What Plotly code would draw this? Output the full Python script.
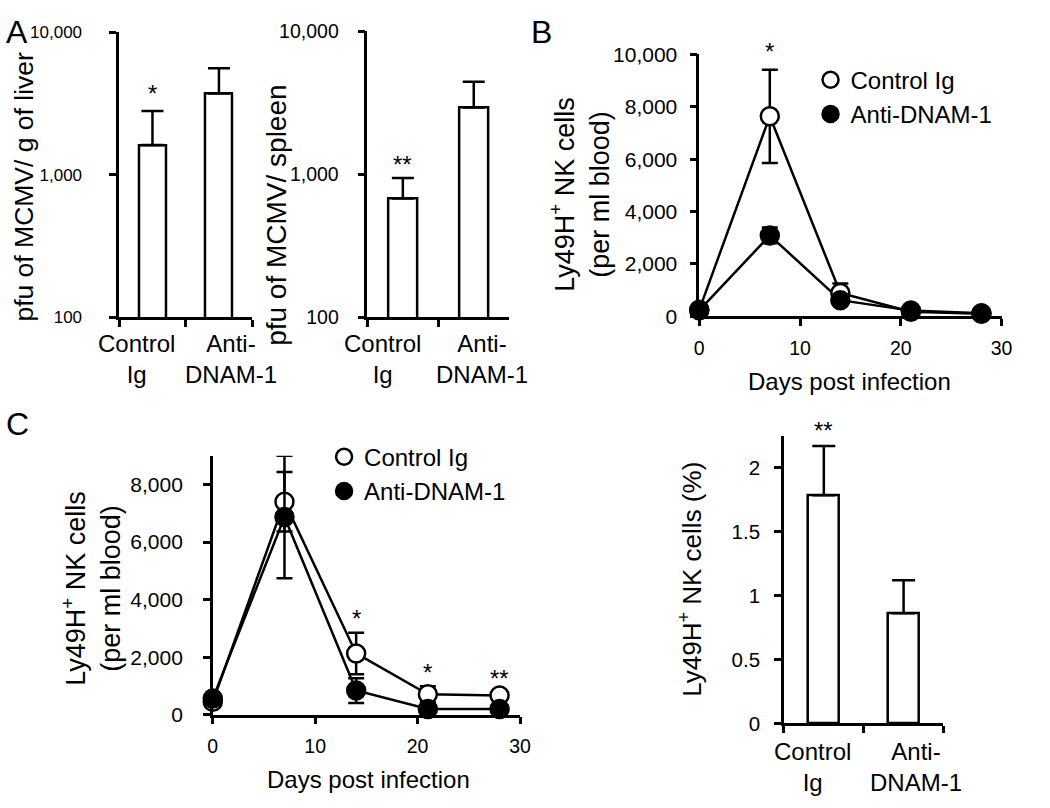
import plotly.graph_objects as go
import numpy as np

W, H = 1050, 808
FONT = "Liberation Sans, Arial, sans-serif"

# ---------------- data ----------------
groups = ["Control Ig", "Anti-DNAM-1"]
group_labels = ["Control<br>Ig", "Anti-<br>DNAM-1"]

liver_pfu = [1615, 3715]
liver_err = [1185, 1875]
liver_sig = ["*", ""]

spleen_pfu = [676, 2933]
spleen_err = [264, 1517]
spleen_sig = ["**", ""]

days = [0, 7, 14, 21, 28]
b_control = [250, 7640, 890, 180, 100]
b_control_err = [80, 1780, 370, 50, 30]
b_anti = [230, 3090, 620, 220, 120]
b_anti_err = [60, 300, 150, 60, 30]
b_sig = ["", "*", "", "", ""]

c_control = [450, 7400, 2130, 710, 670]
c_control_err = [80, 1030, 720, 280, 100]
c_anti = [560, 6870, 840, 200, 200]
c_anti_err = [80, 2130, 430, 60, 50]
c_sig = ["", "", "*", "*", "**"]

pct_ly49h = [1.783, 0.86]
pct_err = [0.384, 0.258]
pct_sig = ["**", ""]

# ---------------- helpers (pixel -> paper) ----------------
def px(a):
    return a / W

def py(p):
    return 1 - p / H

def xd(a, b):
    return [px(a), px(b)]

def yd(top, bottom):
    return [py(bottom), py(top)]

LW = 2.5
fig = go.Figure()

def bar_trace(vals, errs, xa, ya, width, capw):
    return go.Bar(
        x=groups, y=vals, width=width,
        marker=dict(color="white", line=dict(color="black", width=LW)),
        error_y=dict(type="data", symmetric=False, array=errs, arrayminus=[0] * len(errs),
                     color="black", thickness=LW, width=capw),
        xaxis=xa, yaxis=ya, showlegend=False, cliponaxis=False,
    )

fig.add_trace(bar_trace(liver_pfu, liver_err, "x", "y", 0.4, 11))
fig.add_trace(bar_trace(spleen_pfu, spleen_err, "x2", "y2", 0.4, 11))
fig.add_trace(bar_trace(pct_ly49h, pct_err, "x5", "y5", 0.39, 11.5))

def line_panel(ctrl, ctrl_err, anti, anti_err, xa, ya, leg):
    for vals in (ctrl, anti):
        fig.add_trace(go.Scatter(x=days, y=vals, mode="lines", line=dict(color="black", width=LW),
                                 xaxis=xa, yaxis=ya, showlegend=False, cliponaxis=False,
                                 hoverinfo="skip"))
    for name, vals, errs, fill in (("Control Ig", ctrl, ctrl_err, "white"),
                                   ("Anti-DNAM-1", anti, anti_err, "black")):
        fig.add_trace(go.Scatter(
            x=days, y=vals, mode="markers", name=name,
            marker=dict(size=18, color=fill, line=dict(color="black", width=LW)),
            error_y=dict(type="data", array=errs, color="black", thickness=LW, width=8),
            xaxis=xa, yaxis=ya, legend=leg, cliponaxis=False,
        ))

line_panel(b_control, b_control_err, b_anti, b_anti_err, "x3", "y3", "legend")
line_panel(c_control, c_control_err, c_anti, c_anti_err, "x4", "y4", "legend2")

# ---------------- axes ----------------
def tf(size):
    return dict(family=FONT, size=size, color="black")

common = dict(showline=True, linecolor="black", linewidth=LW, ticks="outside",
              ticklen=7, tickwidth=LW, tickcolor="black", showgrid=False,
              zeroline=False)

def cat_x(dom, anchor):
    return dict(common, domain=dom, anchor=anchor, type="category",
                categoryorder="array", categoryarray=groups,
                range=[-0.5, 1.5], tickson="boundaries", showticklabels=False)

fig.update_layout(
    xaxis=cat_x(xd(116, 251), "y"),
    yaxis=dict(common, domain=yd(21, 314), anchor="x", type="log", range=[2, 4],
               tickvals=[100, 1000, 10000], ticktext=["100", "1,000", "10,000"],
               tickfont=tf(17), ticklabelstandoff=24),
    xaxis2=cat_x(xd(368, 512), "y2"),
    yaxis2=dict(common, domain=yd(20, 314), anchor="x2", type="log", range=[2, 4],
                tickvals=[100, 1000, 10000], ticktext=["100", "1,000", "10,000"],
                tickfont=tf(19.5), ticklabelstandoff=15),
    xaxis3=dict(common, domain=xd(705, 1012), anchor="y3", range=[0, 30], dtick=10,
                tickfont=tf(19.5), ticklabelstandoff=5),
    yaxis3=dict(common, domain=yd(43.7, 313.3), anchor="x3", range=[0, 10000], dtick=2000,
                tickformat=",d", tickfont=tf(21), ticklabelstandoff=8),
    xaxis4=dict(common, domain=xd(211, 523), anchor="y4", range=[0, 30], dtick=10,
                tickfont=tf(19.5), ticklabelstandoff=5),
    yaxis4=dict(common, domain=yd(456.7, 723.3), anchor="x4", range=[0, 9000], dtick=2000,
                tickformat=",d", tickfont=tf(21), ticklabelstandoff=16),
    xaxis5=cat_x(xd(791, 953), "y5"),
    yaxis5=dict(common, domain=yd(436.7, 732.3), anchor="x5", range=[0, 2.243], dtick=0.5,
                tickfont=tf(20.5), ticklabelstandoff=10),
)

# ---------------- legends ----------------
legfont = dict(family=FONT, size=24, color="black")
fig.update_layout(
    legend=dict(x=px(818), y=py(47), xanchor="left", yanchor="top", font=legfont,
                bgcolor="rgba(0,0,0,0)", tracegroupgap=0, itemsizing="trace"),
    legend2=dict(x=px(324), y=py(435), xanchor="left", yanchor="top", font=legfont,
                 bgcolor="rgba(0,0,0,0)", tracegroupgap=0, itemsizing="trace"),
)

# ---------------- annotations ----------------
ann = []
labfont = dict(family=FONT, size=24, color="black")

def cat_labels(xref, top_px, shifts):
    for g, lab, s in zip(groups, group_labels, shifts):
        ann.append(dict(x=g, xref=xref, y=py(top_px), yref="paper", text=lab,
                        showarrow=False, xanchor="center", yanchor="top",
                        xshift=s, font=labfont, align="center"))

cat_labels("x", 325, [-16, 12])
cat_labels("x2", 325, [-20, 8])
cat_labels("x5", 745, [-11, 12])

def ytitle(text, cx, cy, size=24):
    ann.append(dict(x=px(cx), y=py(cy), xref="paper", yref="paper", text=text,
                    textangle=-90, showarrow=False, xanchor="center", yanchor="middle",
                    font=dict(family=FONT, size=size, color="black"), align="center"))

ytitle("pfu of MCMV/ g of liver", 19, 180, 26.5)
ytitle("pfu of MCMV/ spleen", 275, 209, 28)
ytitle("Ly49H<sup>+</sup> NK cells<br>(per ml blood)", 584, 188, 27)
ytitle("Ly49H<sup>+</sup> NK cells<br>(per ml blood)", 87, 593, 27)
ytitle("Ly49H<sup>+</sup> NK cells (%)", 696, 584, 26)

def xtitle(text, cx, top):
    ann.append(dict(x=px(cx), y=py(top), xref="paper", yref="paper", text=text,
                    showarrow=False, xanchor="center", yanchor="top",
                    font=dict(family=FONT, size=24, color="black")))

xtitle("Days post infection", 858, 364)
xtitle("Days post infection", 369, 774)

for letter, lx, ly in (("A", -1, 0), ("B", 532, 0), ("C", -1, 403)):
    ann.append(dict(x=px(lx), y=py(ly), xref="paper", yref="paper", text=letter,
                    showarrow=False, xanchor="left", yanchor="top",
                    font=dict(family=FONT, size=32, color="black")))

starfont = dict(family=FONT, size=24, color="black")

def stars(xs, tops, sigs, xref, yref, log=False, shift=15):
    for xv, t, s in zip(xs, tops, sigs):
        if not s:
            continue
        yv = np.log10(t) if log else t
        ann.append(dict(x=xv, y=yv, xref=xref, yref=yref, text=s, showarrow=False,
                        xanchor="center", yanchor="middle", yshift=shift, font=starfont))

stars(groups, np.add(liver_pfu, liver_err), liver_sig, "x", "y", log=True, shift=18)
stars(groups, np.add(spleen_pfu, spleen_err), spleen_sig, "x2", "y2", log=True, shift=14)
stars(days, np.add(b_control, b_control_err), b_sig, "x3", "y3", shift=18)
stars(days, np.add(c_control, c_control_err), c_sig, "x4", "y4", shift=14)
stars(groups, np.add(pct_ly49h, pct_err), pct_sig, "x5", "y5", shift=15)

fig.update_layout(
    annotations=ann,
    width=W, height=H,
    margin=dict(l=0, r=0, t=0, b=0),
    paper_bgcolor="white", plot_bgcolor="white",
    font=dict(family=FONT, color="black"),
    bargap=0,
)

fig.write_html(
    "out.html",
    config={"displayModeBar": False},
    post_script=("document.documentElement.style.margin='0';"
                 "document.body.style.margin='0';document.body.style.padding='0';"
                 "document.documentElement.style.overflow='hidden';"
                 "document.body.style.overflow='hidden';"),
)
